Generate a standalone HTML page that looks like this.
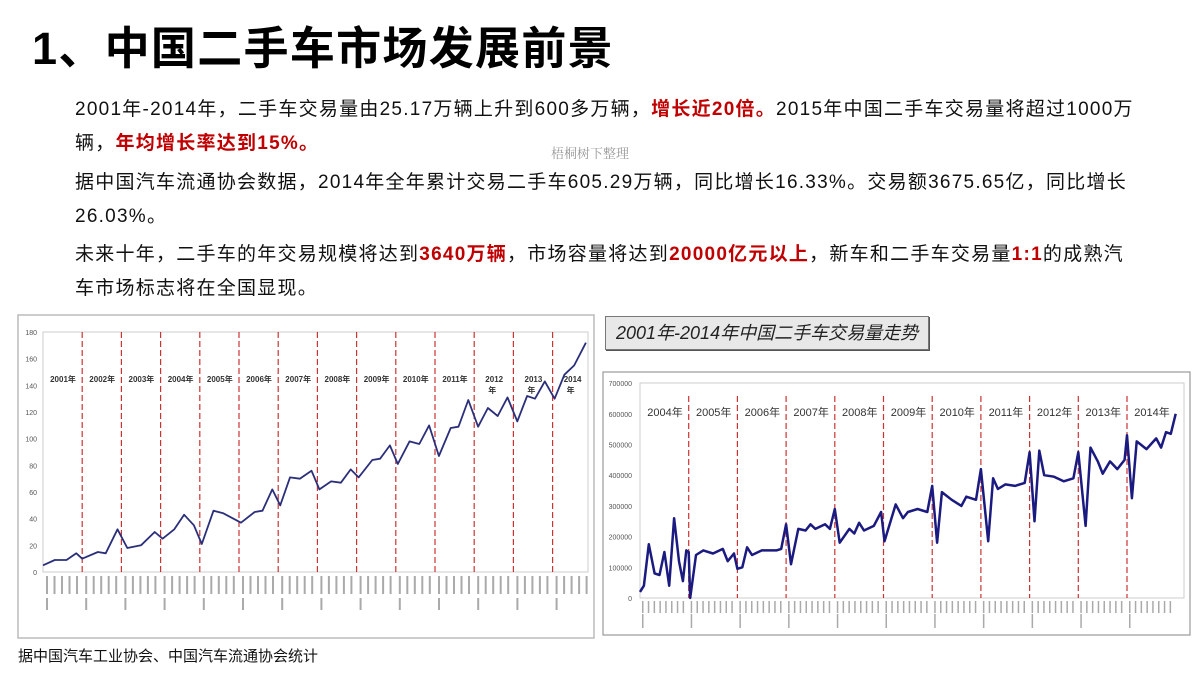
<!DOCTYPE html>
<html><head><meta charset="utf-8"><style>
body{margin:0;width:1200px;height:675px;background:#fff;position:relative;overflow:hidden;font-family:"Liberation Sans","Noto Sans CJK SC",sans-serif;}
.t{position:absolute;left:32px;top:12px;font-size:45px;font-weight:bold;color:#000;white-space:nowrap;letter-spacing:1.3px}
.p{position:absolute;left:75px;font-size:19px;letter-spacing:1.25px;color:#111;white-space:nowrap}
.r{color:#c00000;font-weight:bold}
.wm{position:absolute;left:551px;top:143px;font-size:13px;color:#999;font-family:"Noto Serif CJK SC",serif}
.cap{position:absolute;left:18px;top:645px;font-size:15px;color:#111}
.box{position:absolute;left:605px;top:316px;width:322px;height:32px;background:#e8e8e8;border:1px solid #777;box-shadow:1px 1px 0 #555;font-style:italic;font-size:18px;line-height:32px;text-indent:10px;color:#222;white-space:nowrap;overflow:hidden}
svg{position:absolute;left:0;top:0}
</style></head><body>
<div class="t">1、中国二手车市场发展前景</div>
<div class="p" style="top:94px">2001年-2014年，二手车交易量由25.17万辆上升到600多万辆，<span class="r">增长近20倍。</span>2015年中国二手车交易量将超过1000万</div>
<div class="p" style="top:128px">辆，<span class="r">年均增长率达到15%。</span></div>
<div class="wm">梧桐树下整理</div>
<div class="p" style="top:167px">据中国汽车流通协会数据，2014年全年累计交易二手车605.29万辆，同比增长16.33%。交易额3675.65亿，同比增长</div>
<div class="p" style="top:201px">26.03%。</div>
<div class="p" style="top:239px">未来十年，二手车的年交易规模将达到<span class="r">3640万辆</span>，市场容量将达到<span class="r">20000亿元以上</span>，新车和二手车交易量<span class="r">1:1</span>的成熟汽</div>
<div class="p" style="top:273px">车市场标志将在全国显现。</div>
<div class="box">2001年-2014年中国二手车交易量走势</div>
<div class="cap">据中国汽车工业协会、中国汽车流通协会统计</div>
<svg width="1200" height="675" id="s"></svg>
<script>
var s=document.getElementById('s'),h='';
h+='<rect x="18" y="315" width="576" height="323" fill="none" stroke="#bbb" stroke-width="1.5"/>';
h+='<rect x="43" y="332" width="545" height="240" fill="none" stroke="#ccc"/>';
for(var v=0;v<=180;v+=20){var y=572-v*1.333;h+='<text x="37" y="'+(y+3)+'" font-size="7" fill="#555" text-anchor="end">'+v+'</text>';}
var yrs=['2001年','2002年','2003年','2004年','2005年','2006年','2007年','2008年','2009年','2010年','2011年','2012','2013','2014'];
for(var i=0;i<14;i++){var x=43+39.2*i;if(i>0)h+='<line x1="'+x+'" y1="332" x2="'+x+'" y2="572" stroke="#c33" stroke-dasharray="6,3" stroke-width="1.2"/>';
h+='<text x="'+(x+20)+'" y="382" font-size="8" fill="#333" text-anchor="middle" font-weight="bold">'+yrs[i]+'</text>';
if(i>=11)h+='<text x="'+(x+14)+'" y="393" font-size="8" fill="#333" font-weight="bold">年</text>';
for(var k=0;k<5;k++)h+='<rect x="'+(x+3+k*7.5)+'" y="576" width="2" height="18" fill="#aaa"/>';
h+='<rect x="'+(x+3)+'" y="598" width="2" height="12" fill="#aaa"/>';}
var L=[[2001,5],[2001.3,9],[2001.6,9],[2001.85,14],[2002,10],[2002.4,15],[2002.6,14],[2002.9,32],[2003.15,18],[2003.5,20],[2003.85,30],[2004.05,25],[2004.35,32],[2004.6,43],[2004.85,35],[2005.05,21],[2005.35,46],[2005.6,44],[2006.05,37],[2006.4,45],[2006.6,46],[2006.85,62],[2007.05,50],[2007.3,71],[2007.55,70],[2007.85,76],[2008.05,62],[2008.35,68],[2008.6,67],[2008.85,77],[2009.05,71],[2009.4,84],[2009.6,85],[2009.85,95],[2010.05,81],[2010.35,98],[2010.6,96],[2010.85,110],[2011.1,87],[2011.4,108],[2011.6,109],[2011.85,129],[2012.1,109],[2012.35,123],[2012.6,117],[2012.85,131],[2013.1,113],[2013.35,132],[2013.55,130],[2013.8,143],[2014.05,130],[2014.3,148],[2014.55,155],[2014.85,172]];
h+='<polyline fill="none" stroke="#2b2f7a" stroke-width="1.8" stroke-linejoin="round" points="'+L.map(function(p){return (43+39.2*(p[0]-2001)).toFixed(1)+','+(572-p[1]*1.333).toFixed(1)}).join(' ')+'"/>';
h+='<rect x="603" y="372" width="587" height="263" fill="none" stroke="#999" stroke-width="1.2"/>';
h+='<rect x="640" y="383" width="544" height="215" fill="none" stroke="#ccc"/>';
for(var v=0;v<=7;v++){var y=598-v*30.7;h+='<text x="632" y="'+(y+3)+'" font-size="7" fill="#555" text-anchor="end">'+(v?v*100000:0)+'</text>';}
for(var i=0;i<11;i++){var x=640+48.7*i;if(i>0)h+='<line x1="'+x+'" y1="396" x2="'+x+'" y2="598" stroke="#c33" stroke-dasharray="6,3" stroke-width="1.2"/>';
h+='<text x="'+(x+25)+'" y="416" font-size="11" fill="#333" text-anchor="middle">'+(2004+i)+'年</text>';
for(var k=0;k<8;k++)h+='<rect x="'+(x+2+k*5.8)+'" y="601" width="1.5" height="12" fill="#aaa"/>';
h+='<rect x="'+(x+2)+'" y="614" width="1.5" height="14" fill="#aaa"/>';}
var R=[[2004,20],[2004.08,40],[2004.18,175],[2004.3,80],[2004.4,75],[2004.5,150],[2004.6,40],[2004.7,260],[2004.8,120],[2004.88,55],[2004.95,155],[2005,150],[2005.03,0],[2005.15,140],[2005.3,155],[2005.5,145],[2005.7,160],[2005.8,120],[2005.93,145],[2006,95],[2006.1,100],[2006.2,165],[2006.3,140],[2006.5,155],[2006.8,155],[2006.9,160],[2007,240],[2007.1,110],[2007.25,225],[2007.4,220],[2007.5,240],[2007.6,225],[2007.8,240],[2007.9,225],[2008,290],[2008.1,180],[2008.3,225],[2008.4,210],[2008.5,245],[2008.6,220],[2008.8,235],[2008.95,280],[2009.02,185],[2009.25,305],[2009.4,260],[2009.5,280],[2009.7,290],[2009.9,280],[2010,365],[2010.1,180],[2010.2,345],[2010.4,320],[2010.6,300],[2010.7,330],[2010.9,320],[2011,420],[2011.15,185],[2011.25,390],[2011.35,355],[2011.5,370],[2011.7,365],[2011.9,375],[2012,475],[2012.1,250],[2012.2,480],[2012.3,400],[2012.5,395],[2012.7,380],[2012.9,390],[2013,475],[2013.15,235],[2013.25,490],[2013.4,445],[2013.5,405],[2013.65,445],[2013.8,420],[2013.95,450],[2014,530],[2014.1,325],[2014.2,510],[2014.4,485],[2014.6,520],[2014.7,490],[2014.8,540],[2014.9,535],[2015,600]];
h+='<polyline fill="none" stroke="#1a1a80" stroke-width="2.5" stroke-linejoin="round" points="'+R.map(function(p){return (640+48.7*(p[0]-2004)).toFixed(1)+','+(598-p[1]*0.307).toFixed(1)}).join(' ')+'"/>';
s.innerHTML=h;
</script>
</body></html>
